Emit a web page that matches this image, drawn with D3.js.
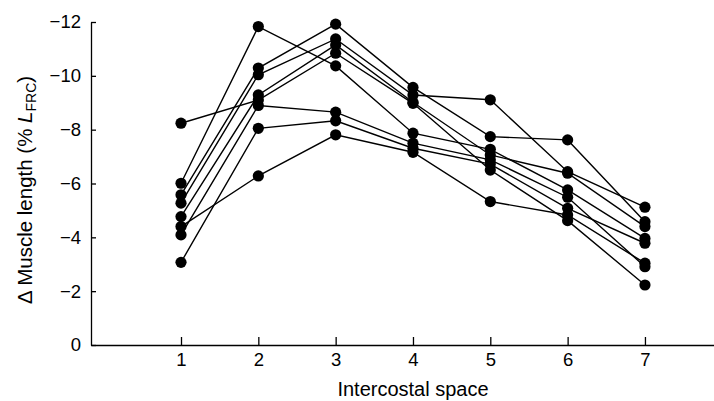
<!DOCTYPE html>
<html>
<head>
<meta charset="utf-8">
<script src="https://cdnjs.cloudflare.com/ajax/libs/d3/7.8.5/d3.min.js"></script>
<style>
	body { margin: 0; background: #fff; }
	text { font-family: 'Liberation Sans', Arial, sans-serif; fill: #000; }
</style>
</head>
<body>
<div id="chart"></div>
<script>
var spaces = [1, 2, 3, 4, 5, 6, 7];

var yTicks = [0, -2, -4, -6, -8, -10, -12];

// one array per subject, values at intercostal spaces 1..7
var subjectA = [-8.24, -9.10, -10.84, -8.98, -6.50, -4.62, -2.23];
var subjectB = [-6.01, -11.83, -10.37, -7.87, -7.27, -5.76, -3.96];
var subjectC = [-5.58, -10.29, -11.92, -9.57, -7.74, -7.62, -4.58];
var subjectD = [-5.27, -10.04, -11.37, -9.29, -9.11, -6.44, -5.12];
var subjectE = [-4.77, -9.29, -11.15, -9.02, -7.06, -6.38, -4.40];
var subjectF = [-4.09, -8.90, -8.65, -7.50, -6.88, -5.49, -2.91];
var subjectG = [-3.07, -8.05, -8.33, -7.31, -6.72, -5.08, -3.78];
var subjectH = [-4.40, -6.28, -7.81, -7.16, -5.33, -4.83, -3.04];

var subjects = [subjectA, subjectB, subjectC, subjectD, subjectE, subjectF, subjectG, subjectH];

var svg = d3.select('#chart').append('svg').attr('width', 714).attr('height', 401);

var xScale = d3.scaleLinear()
	.domain([-0.164, 7.893])
	.range([91, 714]);

var yScale = d3.scaleLinear()
	.domain([0, -12])
	.range([345, 22]);

var xAxis = d3.axisBottom(xScale)
	.tickValues(spaces)
	.tickSizeInner(-8)
	.tickSizeOuter(0)
	.tickPadding(8);

var yAxis = d3.axisLeft(yScale)
	.tickValues(yTicks)
	.tickSizeInner(-5)
	.tickSizeOuter(0)
	.tickPadding(10)
	.tickFormat(function(d) { return d === 0 ? '0' : '\u2212' + Math.abs(d); });

var gx = svg.append('g')
	.attr('transform', 'translate(0,345)')
	.call(xAxis);

var gy = svg.append('g')
	.attr('transform', 'translate(91,0)')
	.call(yAxis);

[gx, gy].forEach(function(g) {
	g.selectAll('path, line').attr('stroke', '#000').attr('stroke-width', 1.3);
	g.selectAll('text').attr('font-size', 18.5).attr('fill', '#000')
		.style('font-family', "'Liberation Sans', Arial, sans-serif");
});

var line = d3.line()
	.x(function(d, i) { return xScale(spaces[i]); })
	.y(function(d) { return yScale(d); });

subjects.forEach(function(s) {
	svg.append('path')
		.attr('d', line(s))
		.attr('fill', 'none')
		.attr('stroke', '#000')
		.attr('stroke-width', 1.4);
});

subjects.forEach(function(s) {
	svg.append('g')
		.selectAll('circle')
		.data(s)
		.enter()
		.append('circle')
		.attr('cx', function(d, i) { return xScale(spaces[i]); })
		.attr('cy', function(d) { return yScale(d); })
		.attr('r', 5.6)
		.attr('fill', '#000');
});

svg.append('text')
	.attr('x', 413)
	.attr('y', 396)
	.attr('text-anchor', 'middle')
	.attr('font-size', 20)
	.text('Intercostal space');

var yTitle = svg.append('text')
	.attr('transform', 'translate(32,190) rotate(-90)')
	.attr('text-anchor', 'middle')
	.attr('font-size', 20.5);

yTitle.append('tspan').text('\u0394 Muscle length (% ');
yTitle.append('tspan').attr('font-style', 'italic').text('L');
yTitle.append('tspan').attr('font-size', 14).attr('dy', 4).text('FRC');
yTitle.append('tspan').attr('dy', -4).text(')');
</script>
</body>
</html>
